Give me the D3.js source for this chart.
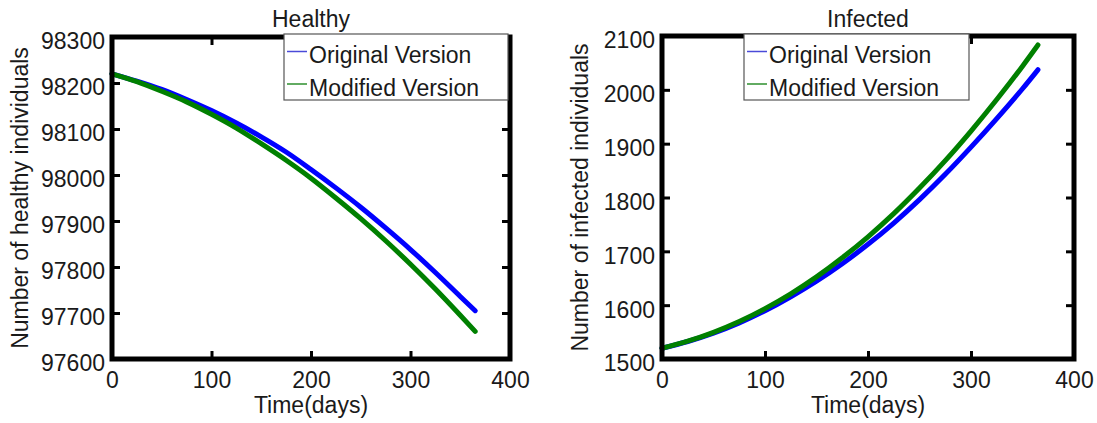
<!DOCTYPE html>
<html>
<head>
<meta charset="utf-8">
<script src="https://cdn.jsdelivr.net/npm/d3@7"></script>
<style>
  html, body { margin: 0; padding: 0; background: #fff; }
  svg { display: block; font-family: "Liberation Sans", Arial, sans-serif; }
</style>
</head>
<body>
<svg id="chart" width="1097" height="423"></svg>
<script>
// ---------------- data ----------------
const days = [0, 25, 50, 75, 100, 125, 150, 175, 200, 225, 250, 275, 300, 325, 350, 365];

const healthyOriginal = [98220, 98204, 98186, 98164, 98140, 98113, 98083, 98050, 98012, 97972, 97930, 97885, 97838, 97788, 97736, 97705];
const healthyModified = [98220, 98203, 98182, 98159, 98132, 98102, 98068, 98032, 97993, 97950, 97905, 97857, 97806, 97752, 97695, 97660];

const infectedOriginal = [1520, 1532.5, 1548, 1567, 1589.5, 1615.5, 1644.5, 1677, 1713, 1752.5, 1796, 1843, 1893.5, 1946.5, 2002, 2037.3];
const infectedModified = [1520, 1533, 1549.5, 1569.5, 1593.5, 1621, 1652.5, 1688, 1727, 1770, 1817.5, 1868.5, 1923.5, 1982, 2044, 2083.3];

const xTicks = [0, 100, 200, 300, 400];
const healthyTicks = [97600, 97700, 97800, 97900, 98000, 98100, 98200, 98300];
const infectedTicks = [1500, 1600, 1700, 1800, 1900, 2000, 2100];

const seriesNames = ["Original Version", "Modified Version"];
const seriesColors = ["#0000ff", "#008000"];
const legendColors = ["#4a4ad8", "#2e8f2e"];

// ---------------- drawing ----------------
const svg = d3.select("#chart");
const FONT = 23;
const textColor = "#1a1a1a";

function panel(cfg) {
  const x = d3.scaleLinear().domain([0, 400]).range([cfg.left, cfg.right]);
  const y = d3.scaleLinear().domain(cfg.yDomain).range([cfg.bottom, cfg.top]);
  const g = svg.append("g");

  // lines
  const line = d3.line().x((d, i) => x(days[i])).y(d => y(d)).curve(d3.curveMonotoneX);
  cfg.series.forEach((s, i) => {
    g.append("path")
      .datum(s)
      .attr("d", line)
      .attr("fill", "none")
      .attr("stroke", seriesColors[i])
      .attr("stroke-width", 5)
      .attr("stroke-linecap", "round")
      .attr("stroke-linejoin", "round");
  });

  // axes: bottom (labels + inward ticks)
  const ax = g.append("g")
    .attr("transform", `translate(0,${cfg.bottom})`)
    .call(d3.axisBottom(x).tickValues(xTicks).tickSize(-8).tickPadding(13).tickFormat(d3.format("d")));
  // top inward ticks
  const axT = g.append("g")
    .attr("transform", `translate(0,${cfg.top})`)
    .call(d3.axisTop(x).tickValues(xTicks).tickSize(-8).tickFormat(""));
  // left axis with labels
  const ay = g.append("g")
    .attr("transform", `translate(${cfg.left},0)`)
    .call(d3.axisLeft(y).tickValues(cfg.yTicks).tickSize(-8).tickPadding(7).tickFormat(d3.format("d")));
  // right inward ticks
  const ayR = g.append("g")
    .attr("transform", `translate(${cfg.right},0)`)
    .call(d3.axisRight(y).tickValues(cfg.yTicks).tickSize(-8).tickFormat(""));

  [ax, axT, ay, ayR].forEach(a => {
    a.select(".domain").remove();
    a.selectAll(".tick line").attr("stroke", "#000").attr("stroke-width", 3);
    a.selectAll("text").attr("font-size", FONT).attr("fill", textColor)
      .attr("font-family", "Liberation Sans, Arial, sans-serif");
  });
  ay.selectAll("text").attr("dy", "0.52em");

  // frame
  g.append("rect")
    .attr("x", cfg.left).attr("y", cfg.top)
    .attr("width", cfg.right - cfg.left).attr("height", cfg.bottom - cfg.top)
    .attr("fill", "none").attr("stroke", "#000").attr("stroke-width", 5);

  // title
  g.append("text")
    .attr("x", (cfg.left + cfg.right) / 2).attr("y", 27)
    .attr("text-anchor", "middle").attr("font-size", FONT).attr("fill", textColor)
    .text(cfg.title);

  // x label
  g.append("text")
    .attr("x", (cfg.left + cfg.right) / 2).attr("y", 413)
    .attr("text-anchor", "middle").attr("font-size", FONT).attr("fill", textColor)
    .text("Time(days)");

  // y label
  g.append("text")
    .attr("transform", `translate(${cfg.yLabelX},${(cfg.top + cfg.bottom) / 2}) rotate(-90)`)
    .attr("text-anchor", "middle").attr("dy", "0.35em")
    .attr("font-size", FONT).attr("fill", textColor)
    .text(cfg.yLabel);

  // legend
  const lg = g.append("g");
  lg.append("rect")
    .attr("x", cfg.legend.x0).attr("y", 34)
    .attr("width", cfg.legend.x1 - cfg.legend.x0).attr("height", 66)
    .attr("fill", "#fff").attr("stroke", "#555").attr("stroke-width", 1.2);
  const rowsY = [51.5, 84];
  const baseY = [62.5, 95.5];
  seriesNames.forEach((name, i) => {
    lg.append("line")
      .attr("x1", cfg.legend.x0 + 3).attr("x2", cfg.legend.x0 + 23)
      .attr("y1", rowsY[i]).attr("y2", rowsY[i])
      .attr("stroke", legendColors[i]).attr("stroke-width", 1.5);
    lg.append("text")
      .attr("x", cfg.legend.x0 + 25).attr("y", baseY[i])
      .attr("font-size", FONT).attr("fill", textColor)
      .text(name);
  });
}

panel({
  left: 112, right: 510, top: 37, bottom: 359,
  yDomain: [97600, 98300], yTicks: healthyTicks,
  series: [healthyOriginal, healthyModified],
  title: "Healthy", yLabel: "Number of healthy individuals", yLabelX: 20,
  legend: { x0: 284, x1: 508 }
});

panel({
  left: 662, right: 1074, top: 36, bottom: 359,
  yDomain: [1500, 2100], yTicks: infectedTicks,
  series: [infectedOriginal, infectedModified],
  title: "Infected", yLabel: "Number of infected individuals", yLabelX: 580,
  legend: { x0: 744, x1: 969 }
});
</script>
</body>
</html>
